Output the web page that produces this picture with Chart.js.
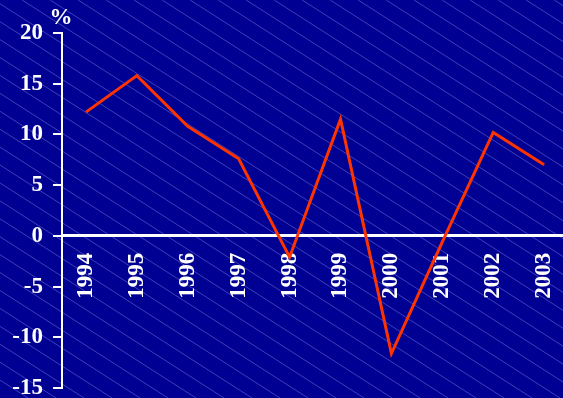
<!DOCTYPE html>
<html>
<head>
<meta charset="utf-8">
<script src="https://cdn.jsdelivr.net/npm/chart.js@4/dist/chart.umd.min.js"></script>
<style>
  html, body { margin: 0; padding: 0; background: #000092; overflow: hidden; }
  #wrap { width: 563px; height: 398px; position: relative; }
</style>
</head>
<body>
<div id="wrap"><canvas id="myChart"></canvas></div>
<script>
var years = [1994, 1995, 1996, 1997, 1998, 1999, 2000, 2001, 2002, 2003];
var growth = [12.2, 15.8, 10.8, 7.6, -2.1, 11.5, -11.6, -0.6, 10.2, 7.0];
var yTicks = [-15, -10, -5, 0, 5, 10, 15, 20];

var serif = "'Liberation Serif', 'Times New Roman', serif";

// striped navy background like the slide
var stripes = {
  id: 'stripes',
  beforeDraw: function(chart) {
    var c = chart.ctx, w = chart.width, h = chart.height;
    c.save();
    c.fillStyle = '#000092';
    c.fillRect(0, 0, w, h);
    c.strokeStyle = 'rgba(140,140,235,0.5)';
    c.lineWidth = 0.9;
    var slope = 0.64;
    for (var x = -h / slope; x < w; x += 28) {
      c.beginPath();
      c.moveTo(x, 0);
      c.lineTo(x + h / slope, h);
      c.stroke();
    }
    c.restore();
  }
};

var percentLabel = {
  id: 'percentLabel',
  afterDraw: function(chart) {
    var c = chart.ctx;
    c.save();
    c.fillStyle = '#ffffff';
    c.font = 'bold 23px ' + serif;
    c.textAlign = 'center';
    c.textBaseline = 'alphabetic';
    c.fillText('%', chart.scales.y.right - 1, 24);
    c.restore();
  }
};

var ctx = document.getElementById('myChart').getContext('2d');
var myChart = new Chart(ctx, {
  type: 'line',
  data: {
    datasets: [{
      data: years.map(function(y, i) { return { x: y, y: growth[i] }; }),
      borderColor: '#ff3300',
      borderWidth: 3,
      pointRadius: 0,
      tension: 0,
      fill: false
    }]
  },
  options: {
    responsive: true,
    maintainAspectRatio: false,
    animation: false,
    layout: { padding: { top: 33, bottom: 10, left: 0, right: 0 } },
    plugins: {
      legend: { display: false },
      tooltip: { enabled: false }
    },
    scales: {
      x: {
        type: 'linear',
        position: { y: 0 },
        min: 1993.53,
        max: 2003.37,
        afterBuildTicks: function(scale) {
          scale.ticks = years.map(function(v) { return { value: v }; });
        },
        afterFit: function(scale) {
          scale.paddingLeft = 0;
          scale.paddingRight = 0;
          scale.paddingTop = 0;
          scale.paddingBottom = 0;
        },
        grid: { display: false, drawTicks: false },
        border: { display: true, color: '#ffffff', width: 3 },
        ticks: {
          color: '#ffffff',
          font: { family: serif, size: 23, weight: 'bold' },
          minRotation: 90,
          maxRotation: 90,
          padding: 17,
          callback: function(v) { return String(v); }
        }
      },
      y: {
        min: -15,
        max: 20,
        afterBuildTicks: function(scale) {
          scale.ticks = yTicks.map(function(v) { return { value: v }; });
        },
        afterFit: function(scale) {
          scale.width = 62;
          scale.paddingTop = 0;
          scale.paddingBottom = 0;
        },
        grid: {
          drawOnChartArea: false,
          drawTicks: true,
          tickLength: 9,
          color: '#ffffff',
          lineWidth: 2
        },
        border: { display: true, color: '#ffffff', width: 2 },
        ticks: {
          color: '#ffffff',
          font: { family: serif, size: 23, weight: 'bold' },
          padding: 10
        }
      }
    }
  },
  plugins: [stripes, percentLabel]
});
</script>
</body>
</html>
